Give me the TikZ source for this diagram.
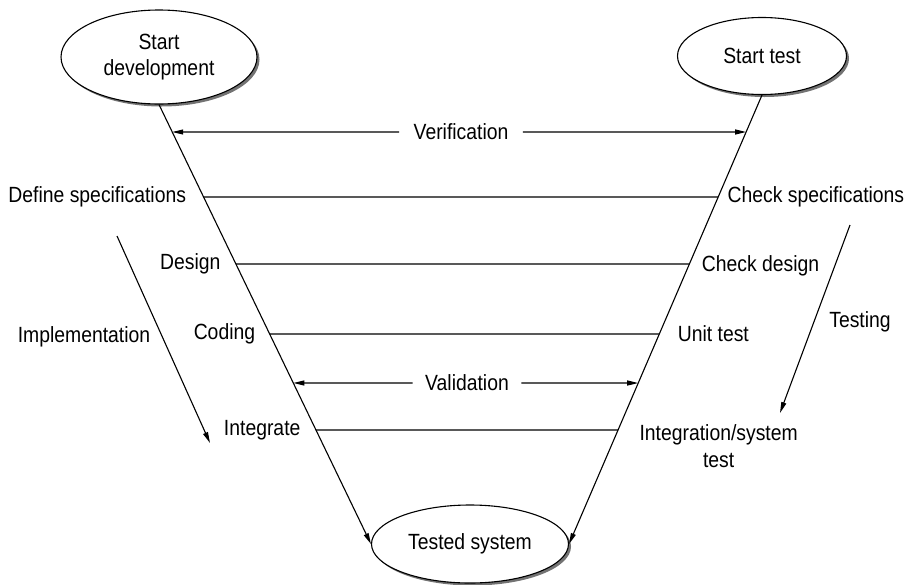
\documentclass[tikz,border=0pt]{standalone}
\usepackage{fontspec}
\setmainfont{Liberation Sans}[FakeStretch=0.88]
\usetikzlibrary{shapes}
\usetikzlibrary{arrows.meta,positioning,shadows,intersections}
\tikzset{phase/.style={ellipse, draw, fill=white, inner sep=0pt, align=center,
    drop shadow={shadow xshift=2.5pt, shadow yshift=-2.5pt, fill=black!55, opacity=1}},
  lbl/.style={inner sep=0pt, align=center},
  arr/.style={-{Triangle[length=11pt,width=5pt]}}}

\begin{document}
\begin{tikzpicture}[x=1pt, y=1pt, line width=1.1pt, font=\fontsize{22pt}{26.4pt}\selectfont]
\useasboundingbox (0,0) rectangle (913,-584);
\node[phase, minimum width=196pt, minimum height=94pt] (sdev) at (159,-57) {Start\\development};
\node[phase, minimum width=169pt, minimum height=77pt] (stest) at (762,-56) {Start test};
\node[phase, minimum width=197pt, minimum height=78pt] (tsys) at (470,-544) {Tested system};
\draw[arr] (sdev.south) -- (tsys.west);
\draw[arr] (stest.south) -- (tsys.east);
\path[name path=leftv] (sdev.south) -- (tsys.west);
\path[name path=rightv] (stest.south) -- (tsys.east);
\foreach \n/\y in {ver/132, spec/197, des/264, cod/334, val/383, intg/430}{
  \path[name path=hz] (0,-\y) -- (913,-\y);
  \path[name intersections={of=leftv and hz, by=L\n}];
  \path[name intersections={of=rightv and hz, by=R\n}];
}
\foreach \n in {spec,des,cod,intg}
  \draw (L\n) -- (R\n);
\node[lbl, inner xsep=14pt] (vtxt) at (461,-132) {Verification};
\draw[arr] (vtxt.west) -- (Lver);
\draw[arr] (vtxt.east) -- (Rver);
\node[lbl, inner xsep=12pt] (valtxt) at (467,-383) {Validation};
\draw[arr] (valtxt.west) -- (Lval);
\draw[arr] (valtxt.east) -- (Rval);
\node[lbl, left=17pt of Lspec] (defspec) {Define specifications};
\node[lbl, left=15pt of Ldes] (design) {Design};
\node[lbl, left=14pt of Lcod] (coding) {Coding};
\node[lbl, left=15pt of Lintg] (integ) {Integrate};
\node[lbl, right=9pt of Rspec] (chkspec) {Check specifications};
\node[lbl, right=12pt of Rdes, yshift=-2pt] (chkdes) {Check design};
\node[lbl, right=18pt of Rcod] (unit) {Unit test};
\node[lbl, right=21pt of Rintg, yshift=-16pt] (intsys) {Integration/system\\test};
\coordinate (impla) at (117,-236);
\coordinate (implb) at (210,-443);
\draw[arr] (impla) -- (implb);
\node[lbl] (impl) at (84,-337) {Implementation};
\coordinate (testa) at (850,-225);
\coordinate (testb) at (780,-413);
\draw[arr] (testa) -- (testb);
\node[lbl] (testing) at (860,-322) {Testing};
\end{tikzpicture}
\end{document}
